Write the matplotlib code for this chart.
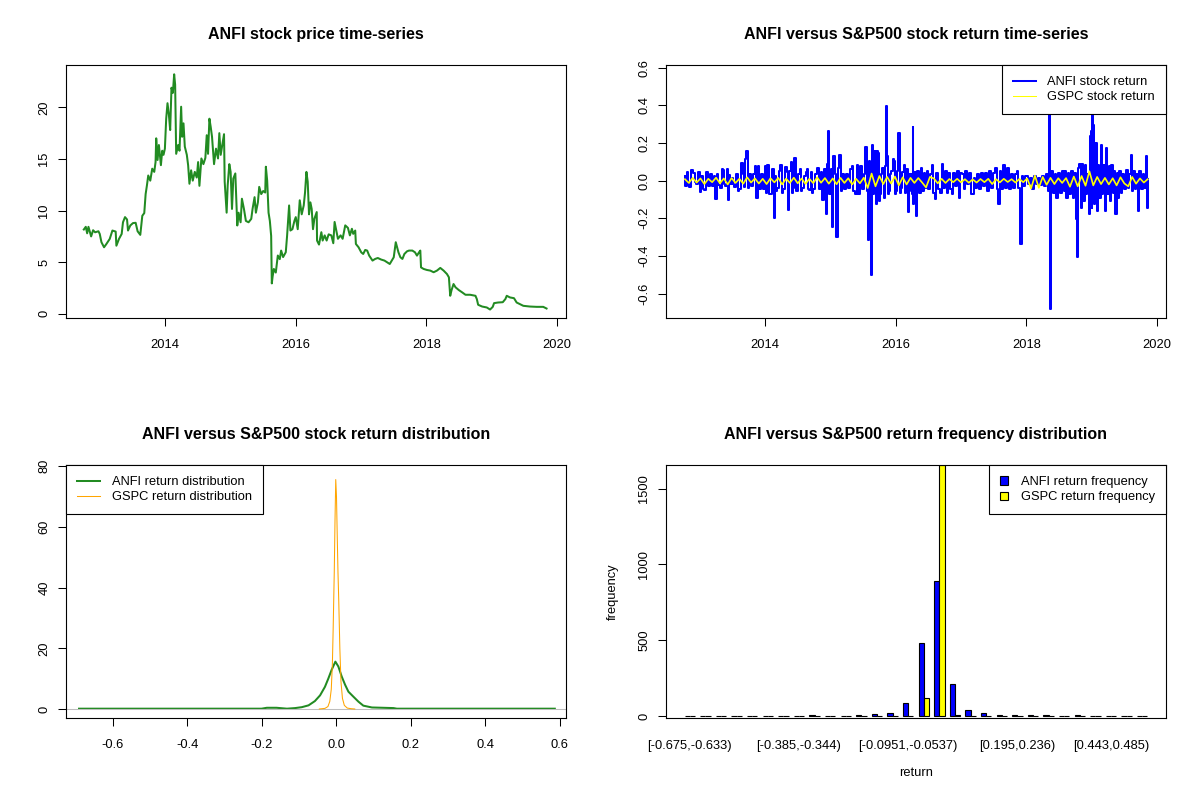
import matplotlib
matplotlib.use('Agg')
import matplotlib.pyplot as plt
import numpy as np
from matplotlib.patches import Patch
from matplotlib.lines import Line2D

plt.rcParams['font.family'] = ['Liberation Sans', 'DejaVu Sans']

# ---------------- data ----------------
price_dates = [2012.753, 2012.783, 2012.804, 2012.824, 2012.865, 2012.895, 2012.926, 2012.977, 2012.997, 2013.023,
               2013.063, 2013.099, 2013.150, 2013.191, 2013.241, 2013.252, 2013.292, 2013.333, 2013.353, 2013.384,
               2013.415, 2013.430, 2013.465, 2013.506, 2013.547, 2013.577, 2013.618, 2013.649, 2013.679, 2013.700,
               2013.720, 2013.740, 2013.771, 2013.801, 2013.832, 2013.852, 2013.862, 2013.883, 2013.903, 2013.934,
               2013.954, 2013.974, 2013.995, 2014.015, 2014.035, 2014.056, 2014.076, 2014.096, 2014.117, 2014.137,
               2014.152, 2014.168, 2014.198, 2014.219, 2014.244, 2014.259, 2014.280, 2014.300, 2014.331, 2014.351,
               2014.371, 2014.397, 2014.422, 2014.453, 2014.483, 2014.504, 2014.524, 2014.554, 2014.585, 2014.615,
               2014.636, 2014.656, 2014.677, 2014.697, 2014.717, 2014.748, 2014.778, 2014.809, 2014.829, 2014.850,
               2014.870, 2014.901, 2014.911, 2014.941, 2014.957, 2014.982, 2015.002, 2015.023, 2015.043, 2015.074,
               2015.104, 2015.124, 2015.155, 2015.175, 2015.206, 2015.236, 2015.277, 2015.318, 2015.338, 2015.369,
               2015.389, 2015.420, 2015.440, 2015.471, 2015.501, 2015.532, 2015.542, 2015.562, 2015.583, 2015.603,
               2015.623, 2015.633, 2015.645, 2015.664, 2015.694, 2015.725, 2015.755, 2015.776, 2015.806, 2015.847,
               2015.867, 2015.898, 2015.918, 2015.949, 2015.979, 2016.000, 2016.030, 2016.061, 2016.091, 2016.122,
               2016.142, 2016.163, 2016.183, 2016.203, 2016.224, 2016.244, 2016.264, 2016.285, 2016.321, 2016.326,
               2016.356, 2016.392, 2016.412, 2016.443, 2016.473, 2016.504, 2016.545, 2016.575, 2016.595, 2016.616,
               2016.646, 2016.687, 2016.718, 2016.758, 2016.799, 2016.829, 2016.860, 2016.880, 2016.911, 2016.921,
               2016.962, 2017.003, 2017.033, 2017.064, 2017.094, 2017.125, 2017.176, 2017.216, 2017.257, 2017.308,
               2017.359, 2017.399, 2017.440, 2017.471, 2017.501, 2017.532, 2017.552, 2017.573, 2017.603, 2017.634,
               2017.664, 2017.705, 2017.735, 2017.786, 2017.827, 2017.857, 2017.888, 2017.908, 2017.919, 2017.959,
               2018.010, 2018.061, 2018.112, 2018.163, 2018.214, 2018.265, 2018.316, 2018.346, 2018.366, 2018.387,
               2018.417, 2018.448, 2018.499, 2018.550, 2018.600, 2018.672, 2018.753, 2018.774, 2018.794, 2018.855,
               2018.926, 2018.977, 2019.018, 2019.038, 2019.099, 2019.171, 2019.211, 2019.232, 2019.282, 2019.343,
               2019.384, 2019.435, 2019.486, 2019.588, 2019.690, 2019.791, 2019.842]
price_vals = [8.17, 8.43, 7.80, 8.43, 7.50, 8.10, 7.90, 8.00, 7.74, 6.94,
              6.45, 6.77, 7.26, 8.07, 7.97, 6.60, 7.26, 7.74, 8.87, 9.37,
              9.14, 8.07, 8.56, 8.79, 8.82, 8.00, 7.65, 9.50, 9.76, 11.60,
              12.45, 13.40, 12.90, 14.06, 13.75, 14.70, 17.00, 14.90, 16.35, 14.40,
              15.80, 15.40, 16.00, 18.90, 20.40, 19.30, 17.80, 21.90, 21.40, 23.20,
              22.20, 15.50, 16.35, 15.80, 20.06, 17.15, 18.45, 16.20, 15.40, 14.40,
              12.60, 13.90, 12.90, 13.75, 13.20, 14.70, 12.40, 15.05, 14.50, 15.10,
              17.30, 15.50, 18.90, 18.10, 17.15, 14.50, 16.00, 15.05, 17.50, 15.40,
              16.20, 17.40, 12.80, 9.80, 12.45, 14.50, 13.75, 10.16, 13.10, 13.60,
              8.56, 9.80, 8.87, 11.15, 10.16, 9.00, 8.87, 9.20, 10.16, 11.30,
              9.80, 10.80, 12.30, 11.60, 11.90, 11.75, 14.25, 12.90, 9.80, 9.00,
              7.55, 2.95, 3.60, 4.35, 4.00, 5.65, 5.30, 6.13, 5.50, 5.97,
              7.55, 10.50, 8.07, 8.20, 9.00, 9.37, 8.20, 11.00, 9.64, 10.50,
              11.75, 13.75, 12.80, 9.64, 10.80, 10.16, 8.20, 9.20, 9.86, 7.10,
              6.71, 7.91, 7.10, 7.60, 7.10, 7.70, 7.60, 6.84, 8.90, 8.24,
              7.27, 7.60, 7.27, 8.57, 8.33, 7.60, 8.24, 7.75, 8.07, 6.77,
              6.45, 5.96, 5.80, 6.19, 6.13, 5.64, 5.16, 5.32, 5.41, 5.26,
              5.16, 5.00, 4.83, 5.16, 5.48, 6.94, 6.45, 5.96, 5.48, 5.32,
              5.80, 6.06, 6.13, 6.13, 5.96, 5.64, 5.96, 6.13, 4.50, 4.35,
              4.25, 4.19, 4.03, 4.19, 4.45, 4.19, 3.86, 3.54, 1.75, 2.30,
              2.89, 2.57, 2.30, 2.08, 1.85, 1.85, 1.75, 1.43, 0.88, 0.71,
              0.62, 0.42, 0.68, 1.04, 1.10, 1.13, 1.43, 1.75, 1.59, 1.52,
              1.10, 0.94, 0.78, 0.71, 0.68, 0.68, 0.52]

ret_dates = [2012.768, 2012.772, 2012.819, 2012.823, 2012.855, 2012.880, 2012.921, 2012.925, 2012.957, 2012.987,
             2013.007, 2013.038, 2013.042, 2013.068, 2013.109, 2013.130, 2013.170, 2013.201, 2013.221, 2013.247,
             2013.272, 2013.292, 2013.323, 2013.343, 2013.364, 2013.368, 2013.394, 2013.420, 2013.435, 2013.465,
             2013.469, 2013.506, 2013.510, 2013.537, 2013.577, 2013.581, 2013.608, 2013.644, 2013.674, 2013.678,
             2013.694, 2013.720, 2013.740, 2013.771, 2013.801, 2013.827, 2013.852, 2013.873, 2013.893, 2013.923,
             2013.954, 2013.985, 2014.005, 2014.015, 2014.040, 2014.066, 2014.086, 2014.117, 2014.147, 2014.168,
             2014.172, 2014.198, 2014.219, 2014.244, 2014.259, 2014.290, 2014.320, 2014.346, 2014.361, 2014.381,
             2014.412, 2014.416, 2014.432, 2014.453, 2014.483, 2014.514, 2014.544, 2014.548, 2014.575, 2014.605,
             2014.636, 2014.656, 2014.660, 2014.687, 2014.717, 2014.721, 2014.748, 2014.778, 2014.819, 2014.839,
             2014.860, 2014.890, 2014.911, 2014.941, 2014.956, 2014.972, 2014.992, 2015.012, 2015.033, 2015.053,
             2015.074, 2015.089, 2015.109, 2015.124, 2015.145, 2015.165, 2015.186, 2015.216, 2015.247, 2015.277,
             2015.308, 2015.338, 2015.359, 2015.389, 2015.415, 2015.440, 2015.470, 2015.491, 2015.521, 2015.542,
             2015.562, 2015.582, 2015.593, 2015.613, 2015.628, 2015.644, 2015.664, 2015.679, 2015.705, 2015.725,
             2015.745, 2015.749, 2015.766, 2015.786, 2015.806, 2015.827, 2015.847, 2015.857, 2015.878, 2015.882,
             2015.898, 2015.918, 2015.949, 2015.969, 2015.990, 2015.994, 2016.010, 2016.030, 2016.051, 2016.071,
             2016.091, 2016.112, 2016.132, 2016.152, 2016.173, 2016.188, 2016.203, 2016.207, 2016.234, 2016.254,
             2016.269, 2016.273, 2016.290, 2016.321, 2016.341, 2016.372, 2016.392, 2016.412, 2016.443, 2016.463,
             2016.483, 2016.514, 2016.545, 2016.565, 2016.585, 2016.606, 2016.626, 2016.656, 2016.687, 2016.718,
             2016.738, 2016.768, 2016.789, 2016.819, 2016.840, 2016.870, 2016.891, 2016.921, 2016.952, 2016.972,
             2017.003, 2017.033, 2017.053, 2017.074, 2017.104, 2017.135, 2017.176, 2017.206, 2017.237, 2017.267,
             2017.298, 2017.328, 2017.359, 2017.379, 2017.410, 2017.440, 2017.471, 2017.501, 2017.532, 2017.562,
             2017.583, 2017.603, 2017.634, 2017.664, 2017.684, 2017.715, 2017.746, 2017.776, 2017.807, 2017.837,
             2017.868, 2017.888, 2017.919, 2017.939, 2017.969, 2018.000, 2018.041, 2018.071, 2018.102, 2018.132,
             2018.163, 2018.193, 2018.224, 2018.254, 2018.285, 2018.316, 2018.336, 2018.361, 2018.371, 2018.397,
             2018.417, 2018.448, 2018.468, 2018.499, 2018.529, 2018.560, 2018.580, 2018.600, 2018.621, 2018.651,
             2018.672, 2018.702, 2018.723, 2018.753, 2018.774, 2018.789, 2018.804, 2018.824, 2018.845, 2018.865,
             2018.885, 2018.906, 2018.926, 2018.947, 2018.967, 2018.977, 2018.997, 2019.008, 2019.018, 2019.038,
             2019.048, 2019.069, 2019.089, 2019.109, 2019.130, 2019.150, 2019.171, 2019.191, 2019.211, 2019.232,
             2019.252, 2019.272, 2019.293, 2019.313, 2019.333, 2019.354, 2019.374, 2019.394, 2019.415, 2019.435,
             2019.455, 2019.486, 2019.517, 2019.547, 2019.567, 2019.588, 2019.608, 2019.628, 2019.649, 2019.669,
             2019.700, 2019.720, 2019.740, 2019.771, 2019.791, 2019.822, 2019.842, 2019.852, 2019.862]
anfi_ret = [0.025, -0.028, 0.048, -0.019, -0.034, 0.055, 0.042, -0.005, -0.019, 0.048,
            -0.058, 0.025, -0.046, -0.051, 0.048, -0.028, 0.034, -0.028, 0.025, -0.099,
            0.034, -0.023, -0.037, 0.060, 0.055, -0.019, -0.028, 0.060, -0.104, 0.028,
            -0.019, 0.016, -0.019, -0.034, 0.034, -0.055, -0.046, 0.095, 0.034, -0.034,
            0.113, 0.160, -0.037, 0.037, -0.028, 0.034, 0.078, -0.093, 0.078, -0.042,
            0.034, -0.046, 0.078, -0.067, 0.081, -0.069, -0.072, 0.060, -0.199, 0.025,
            -0.055, -0.037, 0.051, 0.086, -0.063, -0.046, 0.072, 0.048, -0.157, 0.051,
            0.099, -0.063, -0.041, 0.118, -0.055, 0.034, 0.062, -0.055, -0.037, 0.025,
            0.048, 0.060, -0.046, -0.051, 0.048, -0.065, -0.046, 0.034, 0.069, -0.046,
            0.048, -0.104, 0.060, -0.175, 0.090, 0.263, -0.072, 0.060, -0.245, 0.131,
            0.034, -0.302, -0.298, 0.065, 0.139, -0.055, 0.034, -0.046, 0.034, -0.037,
            0.060, 0.078, -0.055, -0.072, 0.083, -0.072, 0.078, -0.046, 0.034, 0.178,
            -0.055, -0.316, 0.104, -0.125, -0.501, 0.189, -0.072, 0.160, -0.125, 0.157,
            0.148, -0.108, -0.072, 0.034, 0.069, -0.090, 0.078, 0.395, 0.131, -0.072,
            -0.055, 0.034, 0.051, 0.113, 0.104, -0.072, -0.055, 0.051, 0.254, -0.063,
            -0.037, 0.048, 0.086, -0.063, 0.060, -0.169, 0.034, -0.055, 0.034, -0.072,
            0.284, -0.125, 0.048, -0.187, 0.051, -0.063, 0.069, -0.055, 0.042, -0.037,
            0.051, -0.046, 0.034, 0.086, -0.063, -0.099, 0.042, -0.046, -0.063, 0.090,
            -0.037, 0.051, -0.063, 0.042, -0.046, -0.072, 0.042, -0.028, 0.051, -0.090,
            0.042, 0.034, -0.046, 0.051, -0.019, 0.042, -0.072, 0.016, -0.037, 0.034,
            -0.046, 0.042, -0.028, 0.042, -0.055, 0.051, -0.037, 0.042, 0.069, -0.046,
            -0.125, 0.051, -0.046, 0.086, -0.037, 0.069, -0.046, 0.034, -0.037, 0.034,
            0.051, -0.037, -0.338, 0.025, -0.028, 0.025, -0.019, 0.016, -0.046, 0.025,
            -0.019, 0.016, -0.023, 0.025, -0.028, 0.034, -0.055, 0.565, -0.681, 0.051,
            -0.063, 0.034, -0.090, 0.042, -0.063, 0.051, -0.055, 0.051, -0.090, 0.042,
            -0.072, 0.051, -0.090, 0.042, -0.205, -0.407, 0.069, 0.090, -0.143, 0.090,
            -0.108, 0.086, -0.072, 0.034, -0.178, 0.236, 0.263, -0.143, 0.450, 0.298,
            -0.125, 0.201, -0.160, 0.086, -0.090, 0.192, -0.072, 0.086, -0.160, 0.175,
            -0.072, 0.078, -0.108, 0.086, -0.063, 0.051, -0.178, 0.042, -0.090, 0.051,
            -0.063, 0.034, -0.046, 0.055, -0.037, 0.034, 0.139, -0.055, 0.051, -0.046,
            0.034, -0.160, 0.051, -0.046, 0.034, -0.037, 0.131, -0.143, 0.007]

gspc_start, gspc_end = 2012.77, 2019.86
gspc_ret = [0.008, -0.012, 0.015, -0.010, 0.012, -0.018, 0.010, -0.008, 0.016, -0.014,
            0.012, -0.020, 0.014, -0.012, 0.010, -0.016, 0.018, -0.010, 0.012, -0.015,
            0.010, -0.018, 0.013, -0.009, 0.015, -0.020, 0.011, -0.012, 0.016, -0.014,
            0.012, -0.017, 0.010, -0.013, 0.018, -0.011, 0.014, -0.016, 0.012, -0.019,
            0.015, -0.012, 0.013, -0.020, 0.010, -0.014, 0.016, -0.039, 0.038, -0.030,
            0.025, -0.018, 0.020, -0.015, 0.022, -0.025, 0.018, -0.020, 0.015, -0.012,
            0.014, -0.010, -0.036, 0.020, 0.012, -0.014, 0.010, -0.012, 0.009, -0.008,
            0.010, -0.009, 0.008, -0.011, 0.007, -0.010, 0.009, -0.008, 0.010, -0.018,
            0.008, -0.009, 0.010, -0.007, 0.008, -0.010, 0.009, -0.008, 0.012, -0.041,
            0.027, -0.038, 0.020, -0.022, 0.015, -0.018, 0.013, -0.012, 0.014, -0.032,
            0.022, -0.030, 0.025, -0.027, 0.050, -0.025, 0.020, -0.018, 0.015, -0.020,
            0.013, -0.025, 0.018, -0.015, -0.030, 0.020, -0.016, 0.012, -0.010, 0.008]

anfi_dens_x = [-0.690, -0.200, -0.186, -0.160, -0.141, -0.132, -0.110, -0.092, -0.074, -0.057,
               -0.043, -0.030, -0.021, -0.012, -0.002, 0.006, 0.015, 0.024, 0.033, 0.046,
               0.060, 0.073, 0.096, 0.154, 0.163, 0.587]
anfi_dens_y = [0.1, 0.1, 0.4, 0.4, 0.2, 0.1, 0.3, 0.6, 1.2, 2.6,
               4.5, 7.3, 10.0, 12.9, 15.6, 14.0, 10.7, 8.0, 5.7, 4.1,
               2.4, 1.1, 0.5, 0.3, 0.1, 0.1]
gspc_dens_x = [-0.045, -0.030, -0.022, -0.017, -0.013, -0.010, -0.008, -0.005, -0.003, -0.001,
               0.001, 0.003, 0.005, 0.007, 0.010, 0.013, 0.017, 0.022, 0.030, 0.040, 0.050]
gspc_dens_y = [0.0, 0.2, 0.8, 2.5, 6.5, 15, 26, 45, 62, 75.6,
               70, 57, 45, 36, 20, 9, 3.5, 1.2, 0.3, 0.1, 0.0]

anfi_freq = [1, 0, 0, 0, 1, 0, 1, 0, 4, 1, 2, 5, 11, 20, 86, 483, 890, 211, 40, 20,
             5, 5, 4, 4, 2, 5, 1, 1, 0, 1]
gspc_freq = [0, 0, 0, 0, 0, 0, 0, 0, 0, 0, 0, 0, 0, 2, 1, 119, 1655, 6, 2, 0,
             0, 0, 0, 0, 0, 0, 0, 0, 0, 0]
bin_label_idx = [0, 7, 14, 21, 27]
bin_labels = ['[-0.675,-0.633)', '[-0.385,-0.344)', '[-0.0951,-0.0537)', '[0.195,0.236)', '[0.443,0.485)']

# ---------------- layout helpers ----------------
FS = 9.3
TFS = 11.5
W, H = 1200, 800
fig = plt.figure(figsize=(12, 8), dpi=100)


def add_ax(l, t, r, b):
    return fig.add_axes([l / W, 1 - b / H, (r - l) / W, (b - t) / H])


def style(ax, title):
    for s in ax.spines.values():
        s.set_linewidth(0.8)
        s.set_color('black')
    ax.tick_params(axis='both', direction='out', length=5.8, width=0.75, labelsize=FS, colors='black')
    ax.tick_params(axis='x', pad=9)
    ax.tick_params(axis='y', pad=5.5)
    for lbl in ax.get_yticklabels():
        lbl.set_rotation(90)
        lbl.set_va('center')
        lbl.set_ha('right')
    ax.text(0.5, 1.1225, title, transform=ax.transAxes, ha='center', va='center',
            fontsize=TFS, fontweight='bold')


def legend(ax, handles, labels, loc, hl=1.8, htp=0.9):
    lg = ax.legend(handles, labels, loc=loc, bbox_to_anchor=(0, 1) if 'left' in loc else (1, 1),
                   borderaxespad=0, fontsize=FS, frameon=True, fancybox=False, framealpha=1,
                   edgecolor='black', borderpad=0.85, labelspacing=0.25, handlelength=hl,
                   handletextpad=htp, handleheight=0.6)
    lg.get_frame().set_linewidth(0.8)
    return lg


# ---------------- top-left: price ----------------
ax1 = add_ax(66, 65, 566, 318)
ax1.plot(price_dates, price_vals, color='#228B22', lw=1.45)
ax1.set_xlim(2012.48, 2020.14)
ax1.set_ylim(-0.4, 24.1)
ax1.set_xticks([2014, 2016, 2018, 2020])
ax1.set_xticklabels(['2014', '2016', '2018', '2020'])
ax1.set_yticks([0, 5, 10, 15, 20])
ax1.set_yticklabels(['0', '5', '10', '15', '20'])
style(ax1, 'ANFI stock price time-series')

# ---------------- top-right: returns ----------------
ax2 = add_ax(666, 65, 1166, 318)
ax2.plot(ret_dates, anfi_ret, color='blue', lw=1.45, drawstyle='steps-mid')
gspc_dates = np.linspace(gspc_start, gspc_end, len(gspc_ret))
ax2.plot(gspc_dates, gspc_ret, color='yellow', lw=1.2)
ax2.set_xlim(2012.48, 2020.14)
ax2.set_ylim(-0.73, 0.615)
ax2.set_xticks([2014, 2016, 2018, 2020])
ax2.set_xticklabels(['2014', '2016', '2018', '2020'])
yt = [-0.6, -0.4, -0.2, 0.0, 0.2, 0.4, 0.6]
ax2.set_yticks(yt)
ax2.set_yticklabels(['-0.6', '-0.4', '-0.2', '0.0', '0.2', '0.4', '0.6'])
style(ax2, 'ANFI versus S&P500 stock return time-series')
legend(ax2, [Line2D([], [], color='blue', lw=1.45), Line2D([], [], color='yellow', lw=0.75)],
       ['ANFI stock return', 'GSPC stock return'], 'upper right')

# ---------------- bottom-left: density ----------------
ax3 = add_ax(66, 465, 566, 718)
ax3.plot(anfi_dens_x, anfi_dens_y, color='#228B22', lw=1.45)
ax3.axhline(0, color='#BEBEBE', lw=0.75)
ax3.plot(gspc_dens_x, gspc_dens_y, color='orange', lw=0.75)
ax3.set_xlim(-0.725, 0.617)
ax3.set_ylim(-2.97, 80.4)
ax3.set_xticks([-0.6, -0.4, -0.2, 0.0, 0.2, 0.4, 0.6])
ax3.set_xticklabels(['-0.6', '-0.4', '-0.2', '0.0', '0.2', '0.4', '0.6'])
ax3.set_yticks([0, 20, 40, 60, 80])
ax3.set_yticklabels(['0', '20', '40', '60', '80'])
style(ax3, 'ANFI versus S&P500 stock return distribution')
legend(ax3, [Line2D([], [], color='#228B22', lw=1.45), Line2D([], [], color='orange', lw=0.75)],
       ['ANFI return distribution', 'GSPC return distribution'], 'upper left')

# ---------------- bottom-right: frequency bars ----------------
ax4 = add_ax(666, 465, 1166, 718)
n = len(anfi_freq)
grp = np.arange(n) * 3
ax4.bar(grp + 1.5, anfi_freq, width=1, color='blue', edgecolor='black', linewidth=0.8)
ax4.bar(grp + 2.5, gspc_freq, width=1, color='yellow', edgecolor='black', linewidth=0.8)
ax4.set_xlim(-2.56, 93.56)
ax4.set_ylim(-13, 1655)
ax4.set_xticks([3 * i + 2 for i in bin_label_idx])
ax4.set_xticklabels(bin_labels)
ax4.set_yticks([0, 500, 1000, 1500])
ax4.set_yticklabels(['0', '500', '1000', '1500'])
style(ax4, 'ANFI versus S&P500 return frequency distribution')
ax4.tick_params(axis='x', length=0, pad=16)
ax4.text(0.5, -0.217, 'return', transform=ax4.transAxes, ha='center', va='center', fontsize=FS)
ax4.text(-0.106, 0.5, 'frequency', transform=ax4.transAxes, ha='center', va='center',
         rotation=90, fontsize=FS)
legend(ax4, [Patch(facecolor='blue', edgecolor='black', lw=0.8),
             Patch(facecolor='yellow', edgecolor='black', lw=0.8)],
       ['ANFI return frequency', 'GSPC return frequency'], 'upper right', hl=0.65, htp=1.0)

fig.savefig('out.png', dpi=100)
